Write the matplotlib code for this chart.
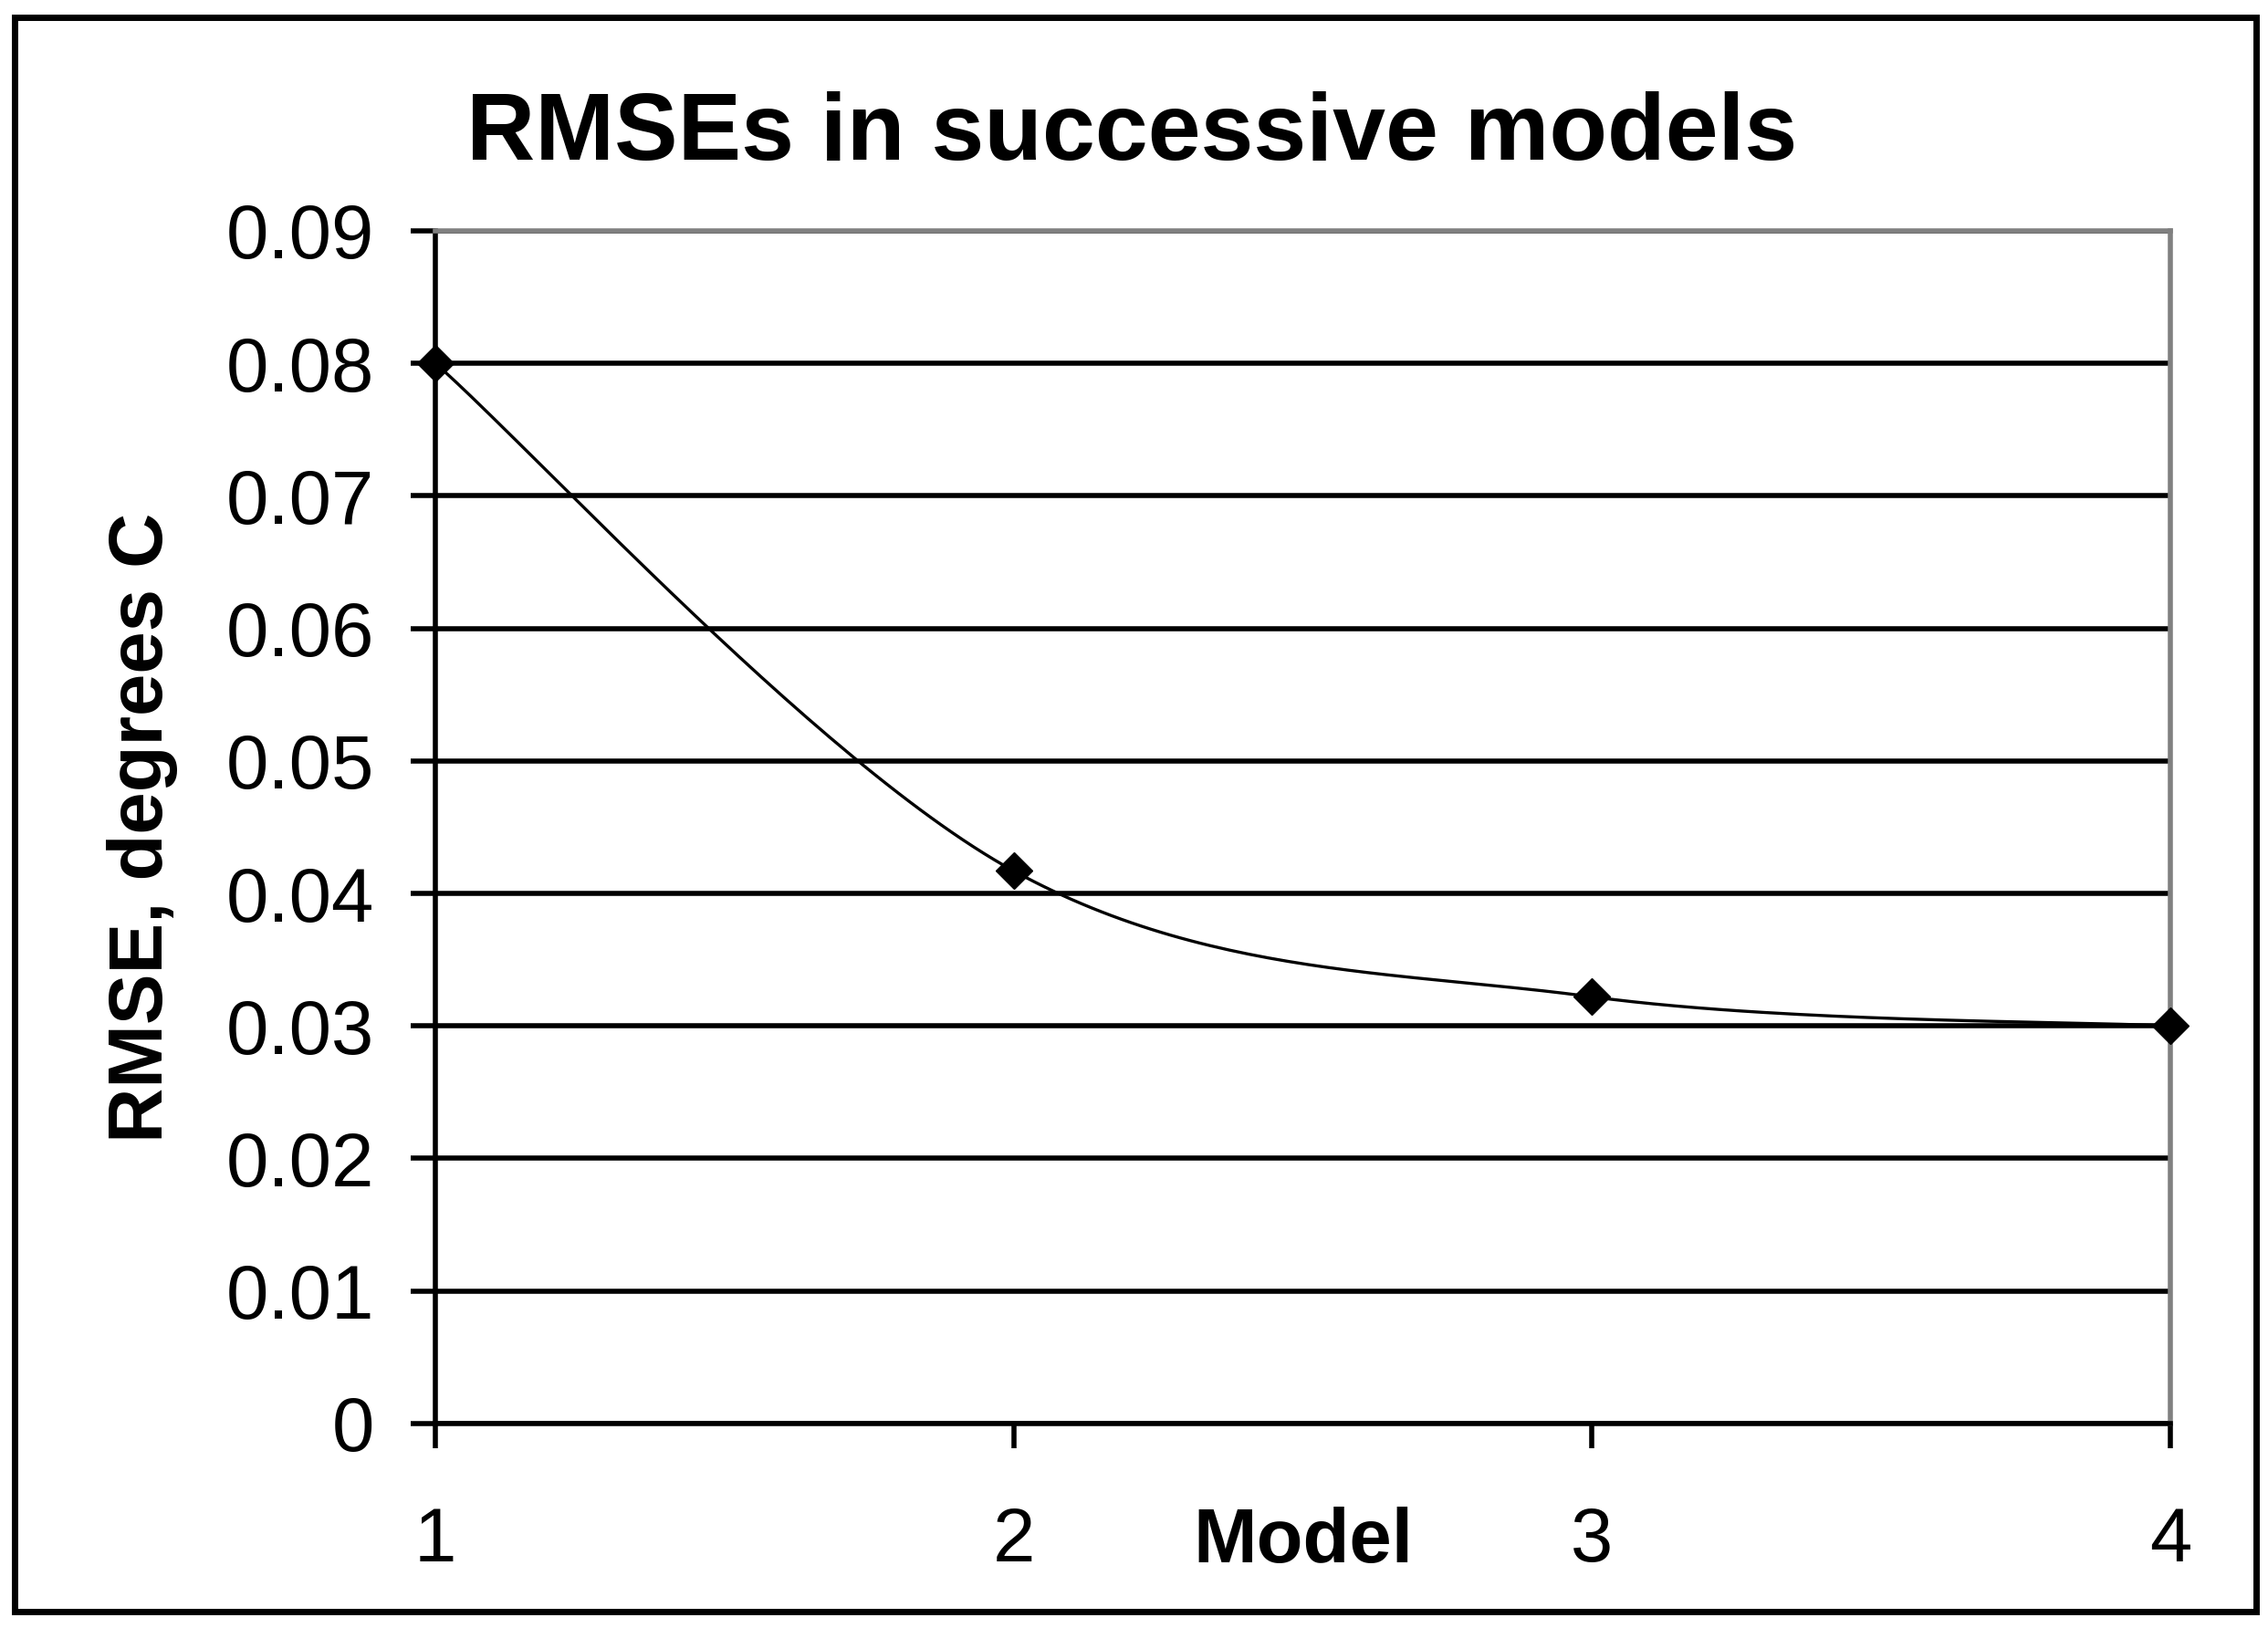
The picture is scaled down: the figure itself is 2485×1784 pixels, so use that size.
import numpy as np
import matplotlib
matplotlib.use("Agg")
import matplotlib.pyplot as plt
import matplotlib.patches as patches

# data
models = [1, 2, 3, 4]
rmse = [0.080, 0.0417, 0.0322, 0.030]
y_ticks = [0, 0.01, 0.02, 0.03, 0.04, 0.05, 0.06, 0.07, 0.08, 0.09]
y_tick_labels = ["0", "0.01", "0.02", "0.03", "0.04", "0.05", "0.06", "0.07", "0.08", "0.09"]
x_tick_labels = ["1", "2", "3", "4"]

plt.rcParams['font.family'] = ['Liberation Sans', 'DejaVu Sans']


def smooth(xs, ys, n=60):
    # Excel-like smoothed line: cubic bezier with catmull-rom control points
    pts = np.column_stack([xs, ys]).astype(float)
    out = []
    for i in range(len(pts) - 1):
        p0 = pts[i - 1] if i > 0 else pts[i]
        p1 = pts[i]
        p2 = pts[i + 1]
        p3 = pts[i + 2] if i + 2 < len(pts) else pts[i + 1]
        c1 = p1 + (p2 - p0) / 6.0
        c2 = p2 - (p3 - p1) / 6.0
        t = np.linspace(0, 1, n)[:, None]
        seg = ((1 - t) ** 3) * p1 + 3 * ((1 - t) ** 2) * t * c1 + 3 * (1 - t) * t ** 2 * c2 + t ** 3 * p2
        out.append(seg if i == 0 else seg[1:])
    out = np.vstack(out)
    return out[:, 0], out[:, 1]


fig = plt.figure(figsize=(24.85, 17.84), dpi=100)
ax = fig.add_axes([0.192, 0.1256, 0.7649, 0.7326])

ax.set_xlim(1, 4)
ax.set_ylim(0, 0.09)

# gridlines
ax.set_axisbelow(True)
ax.yaxis.grid(True, color='black', linewidth=4.0)

sx, sy = smooth(models, rmse)
ax.plot(sx, sy, color='black', linewidth=2.4, zorder=3, clip_on=False)
ax.plot(models, rmse, linestyle='none', marker='D', markersize=20,
        color='black', zorder=4, clip_on=False)

for side in ['left', 'bottom']:
    ax.spines[side].set_color('black')
    ax.spines[side].set_linewidth(4.0)
for side in ['top', 'right']:
    ax.spines[side].set_color('#808080')
    ax.spines[side].set_linewidth(4.0)

ax.set_yticks(y_ticks)
ax.set_yticklabels(y_tick_labels)
ax.set_xticks(models)
ax.set_xticklabels(x_tick_labels)
ax.tick_params(axis='both', direction='out', length=19.5, width=4.0,
               color='black', labelsize=60, labelcolor='black')
ax.tick_params(axis='y', pad=29)
ax.tick_params(axis='x', pad=45)

ax.set_xlabel('Model', fontsize=60, fontweight='bold')
ax.xaxis.label.set_va('baseline')
ax.xaxis.set_label_coords(0.5, -0.1163)

ax.set_ylabel('RMSE, degrees C', fontsize=60, fontweight='bold')
ax.yaxis.label.set_va('center')
ax.yaxis.set_label_coords(-0.169, 0.5)

fig.text(0.499, 0.9019, 'RMSEs in successive models', fontsize=75,
         fontweight='bold', ha='center', va='baseline')

# outer chart border
W, H = 2485.0, 1784.0
border = patches.Rectangle((16 / W, 1 - 1766 / H), (2472 - 16) / W, (1766 - 19) / H,
                           transform=fig.transFigure, fill=False,
                           edgecolor='black', linewidth=5)
fig.patches.append(border)

fig.savefig('out.png', dpi=100, facecolor='white')
